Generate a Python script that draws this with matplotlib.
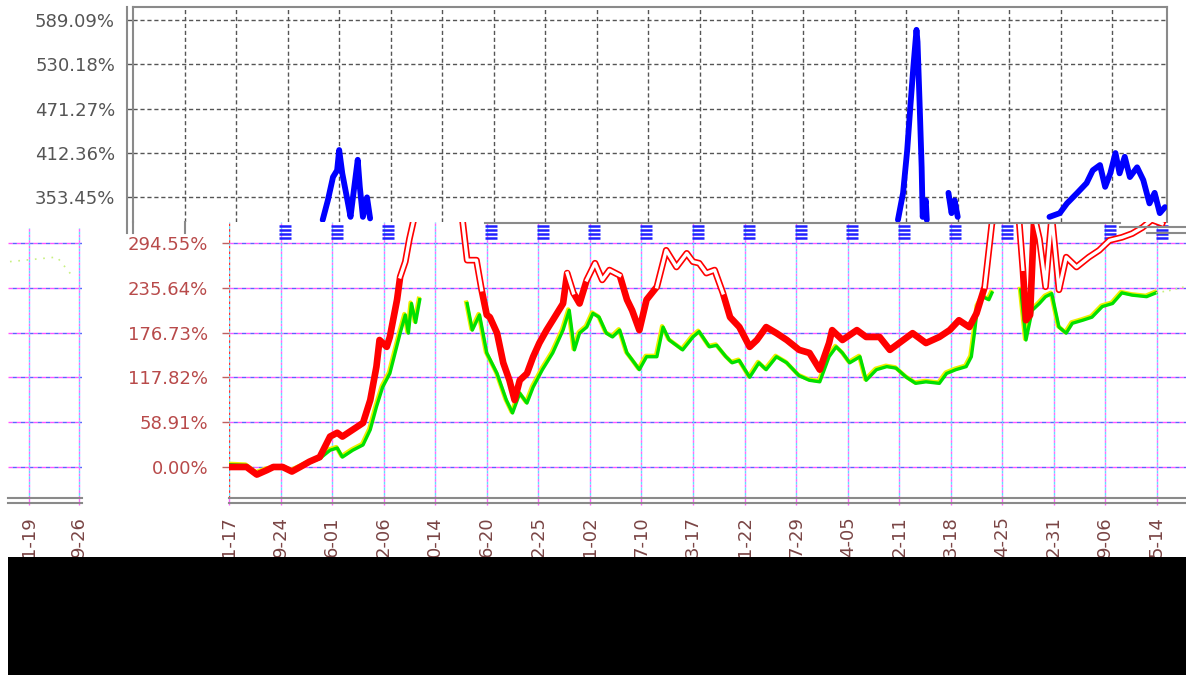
import numpy as np
import matplotlib.pyplot as plt
from matplotlib import transforms
from matplotlib.lines import Line2D
from matplotlib.patches import Rectangle

W, H = 1186, 675

# ---- data ----
# top panel: blue series, separate x index of that panel, NaN = gap
blue_x = [184, 189, 194, 198, 200, 203, 208, 211, 213, 218, 220, 223, 227, 230, 236,
          742, 747, 751, 754, 757, 760, 761, 763, 765, 766, 769, 770, 780,
          791, 794, 797, 800, 850,
          889, 899, 906, 916, 925, 931, 938, 943, 948, 953, 957, 962, 967, 974, 980,
          986, 991, 996, 1001]
blue_y = [323, 349, 380, 389, 416, 385, 349, 327, 349, 403, 367, 327, 353, 325, np.nan,
          323, 359, 416, 473, 527, 576, 560, 479, 393, 327, 349, 323, np.nan,
          359, 332, 349, 327, np.nan,
          327, 332, 345, 359, 372, 389, 396, 367, 385, 412, 385, 407, 380, 393, 376,
          345, 359, 332, 340]

# bottom panel: red and green series (cumulative %), trading-day index
red_x = [1, 17, 27, 37, 43, 52, 61, 69, 78, 88, 98, 105, 110, 120, 130, 137, 143, 146,
         153, 156, 163, 166, 171, 175, 180, 186, 200, 215, 226, 231, 240, 245, 250, 253,
         260, 266, 272, 277, 282, 289, 295, 301, 308, 314, 324, 328, 334, 340, 347, 355,
         362, 369, 379, 386, 391, 398, 405, 415, 424, 434, 444, 450, 456, 463, 471, 479,
         486, 495, 505, 512, 521, 531, 541, 553, 563, 573, 582, 585, 595, 609, 618, 631,
         641, 650, 663, 676, 689, 699, 708, 718, 725, 730, 733, 737, 740, 747, 755, 766,
         770, 773, 777, 781, 786, 792, 798, 805, 812, 822, 834, 844, 854, 866, 876, 886,
         895, 905]
red_y = [0, 0, -10, -4, 0, 0, -6, 0, 7, 13, 40, 45, 40, 49, 58, 88, 132, 167,
         158, 171, 220, 250, 270, 300, 330, 345, 350, 340, 330, 272, 272, 233, 200, 197,
         176, 137, 114, 88, 114, 123, 145, 163, 180, 193, 215, 255, 229, 215, 246, 268,
         246, 259, 252, 220, 206, 180, 220, 237, 285, 263, 281, 270, 268, 255, 259, 229,
         197, 184, 158, 167, 184, 176, 167, 154, 150, 128, 163, 180, 167, 180, 171, 171,
         154, 163, 176, 163, 171, 180, 193, 184, 202, 224, 237, 285, 321, 330, np.nan, 330,
         260, 193, 200, 330, 300, 237, 330, 233, 276, 263, 276, 285, 298, 302, 307, 315,
         325, 320]

green_x = [1, 17, 27, 37, 52, 61, 69, 78, 88, 98, 105, 110, 120, 130, 137, 143, 149, 156,
           166, 171, 174, 177, 181, 185, 200, 231, 236, 243, 250, 260, 269, 275, 282, 289,
           295, 304, 314, 324, 330, 335, 340, 347, 353, 359, 366, 372, 379, 386, 391, 398,
           405, 415, 421, 427, 440, 450, 456, 466, 473, 482, 488, 495, 505, 514, 521, 531,
           541, 553, 563, 573, 582, 589, 595, 602, 612, 618, 628, 638, 647, 657, 666, 676,
           689, 696, 705, 715, 720, 723, 726, 731, 737, 740, 755, 768, 773, 779, 786, 792,
           798, 805, 812, 818, 828, 837, 847, 857, 866, 876, 890, 899]
green_y = [3, 2, -8, -3, 0, -5, 0, 6, 11, 22, 25, 13, 22, 29, 49, 79, 105, 123,
           176, 200, 176, 215, 190, 220, np.nan, 215, 180, 200, 150, 123, 88, 71, 97, 84,
           105, 128, 150, 180, 206, 154, 176, 184, 202, 197, 176, 171, 180, 150, 141, 128,
           145, 145, 184, 167, 154, 171, 178, 158, 160, 145, 137, 140, 118, 137, 128, 145,
           137, 120, 114, 112, 145, 158, 150, 137, 145, 114, 128, 132, 130, 118, 110, 112,
           110, 123, 128, 132, 145, 176, 211, 224, 220, 229, np.nan, 233, 167, 206, 215, 224,
           228, 184, 176, 189, 193, 197, 211, 215, 229, 226, 224, 229]
green_tail_x = [899, 912, 927]
green_tail_y = [229, 232, 237]

# small left fragment (faint green specks)
frag_x = [-19, 28, 44]
frag_y = [270, 276, 250]

top_ticks = [353.45, 412.36, 471.27, 530.18, 589.09]
bot_ticks = [0.00, 58.91, 117.82, 176.73, 235.64, 294.55]
date_labels = ["1-17", "9-24", "6-01", "2-06", "0-14", "6-20", "2-25", "1-02", "7-10",
               "3-17", "1-22", "7-29", "4-05", "2-11", "3-18", "4-25", "2-31", "9-06", "5-14"]
frag_labels = ["1-19", "9-26"]
glyph_cols = [1, 2, 3, 5, 6, 7, 8, 9, 10, 11, 12, 13, 14, 15, 17, 18]


def fx(px):
    return px / W


def fy(py):
    return 1 - py / H


fig = plt.figure(figsize=(W / 100, H / 100), dpi=100)
fig.patch.set_facecolor("white")

# ---------- top panel ----------
ax_top = fig.add_axes([fx(133), fy(222), (1167 - 133) / W, (222 - 7) / H])
ax_top.set_xlim(0, 1003)
ax_top.set_ylim(320.2, 606.4)
ax_top.plot(blue_x, blue_y, color="#0000ff", lw=4.2, solid_joinstyle="round",
            solid_capstyle="round", zorder=3)
ax_top.set_xticks(np.arange(50, 1000, 50))
ax_top.set_xticklabels([])
ax_top.tick_params(axis="x", length=0)
ax_top.set_yticks(top_ticks)
ax_top.set_yticklabels([f"{v:.2f}%" for v in top_ticks])
ax_top.tick_params(axis="y", length=4, width=1, color="#555555", pad=9,
                   labelsize=13, labelcolor="#555555")
ax_top.grid(True, color="#555555", ls=(0, (3, 2)), lw=1)
for s in ["left", "top", "right"]:
    ax_top.spines[s].set_color("#8a8a8a")
    ax_top.spines[s].set_linewidth(1.5)
ax_top.spines["bottom"].set_visible(False)

# ---------- bottom panel ----------
ax_bot = fig.add_axes([fx(229), fy(498), (1186 - 229) / W, (498 - 222) / H])
ax_bot.set_facecolor("none")
ax_bot.set_xlim(0, 928.2)
ax_bot.set_ylim(-40.8, 322.2)

for v in bot_ticks:
    ax_bot.axhline(v, color="#ff55ff", ls=(0, (3, 3)), lw=1, zorder=1)
    ax_bot.axhline(v, color="#6060ff", ls=(3, (3, 3)), lw=1, zorder=1)
for k in range(19):
    c1 = "#ff3030" if k == 0 else "#ff66ff"
    ax_bot.axvline(k * 50, color=c1, ls=(0, (2, 2)), lw=1, zorder=1)
    ax_bot.axvline(k * 50, color="#60e0ff", ls=(2, (2, 2)), lw=1, zorder=1)

# glyph fragments along the seam
for k in glyph_cols:
    ax_bot.plot([k * 50 + 4.5] * 4, [317, 312, 306.8, 301.5], ls="none", marker="_",
                ms=9, mew=1.8, color="#2020ff", zorder=2)

# green with yellow fringe
shift = transforms.offset_copy(ax_bot.transData, fig=fig, x=-1, y=1, units="dots")
ax_bot.plot(green_x, green_y, color="#f0f000", lw=3.0, transform=shift, zorder=3)
ax_bot.plot(green_x, green_y, color="#00e000", lw=2.4, zorder=4)
ax_bot.plot(green_tail_x, green_tail_y, color="#c8f080", lw=1.2, ls=(0, (1, 3)), zorder=4)

# red, drawn hollow where it runs high
red_arr = np.array(red_y, dtype=float)
ax_bot.plot(red_x, red_arr, color="#ff0000", lw=4.8, zorder=5)
hollow = np.where(red_arr > 225, red_arr, np.nan)
ax_bot.plot(red_x, hollow, color="white", lw=2.4, zorder=6)

ax_bot.set_yticks(bot_ticks)
ax_bot.set_yticklabels([f"{v:.2f}%" for v in bot_ticks])
ax_bot.tick_params(axis="y", length=5, width=1, color="#c06060", pad=10,
                   labelsize=13, labelcolor="#b84a4a")
ax_bot.set_xticks(np.arange(0, 901, 50))
ax_bot.set_xticklabels(date_labels, rotation=90)
ax_bot.tick_params(axis="x", length=5, width=1, color="#ff66ff", pad=8,
                   labelsize=13, labelcolor="#7a4545")
for s in ["left", "top", "right"]:
    ax_bot.spines[s].set_visible(False)
ax_bot.spines["bottom"].set_color("#8a8a8a")
ax_bot.spines["bottom"].set_linewidth(1.5)

# ---------- left fragment ----------
ax_left = fig.add_axes([fx(8), fy(498), (82 - 8) / W, (498 - 228) / H])
ax_left.set_facecolor("none")
ax_left.set_xlim(-21, 53)
ax_left.set_ylim(-40.8, 322.2 - 8)
for v in bot_ticks:
    ax_left.axhline(v, color="#ff55ff", ls=(0, (3, 3)), lw=1)
    ax_left.axhline(v, color="#6060ff", ls=(3, (3, 3)), lw=1)
for k in range(2):
    ax_left.axvline(k * 50, color="#ff66ff", ls=(0, (2, 2)), lw=1)
    ax_left.axvline(k * 50, color="#60e0ff", ls=(2, (2, 2)), lw=1)
ax_left.plot(frag_x, frag_y, color="#c8f080", lw=1.2, ls=(0, (1, 4)))
ax_left.set_yticks([])
ax_left.set_xticks([0, 50])
ax_left.set_xticklabels(frag_labels, rotation=90)
ax_left.tick_params(axis="x", length=5, width=1, color="#ff66ff", pad=8,
                    labelsize=13, labelcolor="#7a4545")
for s in ["left", "top", "right"]:
    ax_left.spines[s].set_visible(False)
ax_left.spines["bottom"].set_color("#8a8a8a")
ax_left.spines["bottom"].set_linewidth(1.5)

# ---------- loose frame pieces ----------
seg = [((127, 7), (127, 233)), ((133, 222), (133, 233)), ((185, 222), (185, 233)),
       ((485, 223), (1120, 223)), ((1120, 227), (1186, 227)), ((1147, 233), (1186, 233)),
       ((229, 503), (1186, 503)), ((8, 503), (82, 503))]
for (x0, y0), (x1, y1) in seg:
    fig.add_artist(Line2D([fx(x0), fx(x1)], [fy(y0), fy(y1)], color="#8a8a8a", lw=1.5,
                          transform=fig.transFigure))

fig.add_artist(Rectangle((fx(8), 0), (W - 8) / W, (H - 557) / H, facecolor="black",
                         edgecolor="none", transform=fig.transFigure, zorder=100))

fig.savefig("out.png", dpi=100)
